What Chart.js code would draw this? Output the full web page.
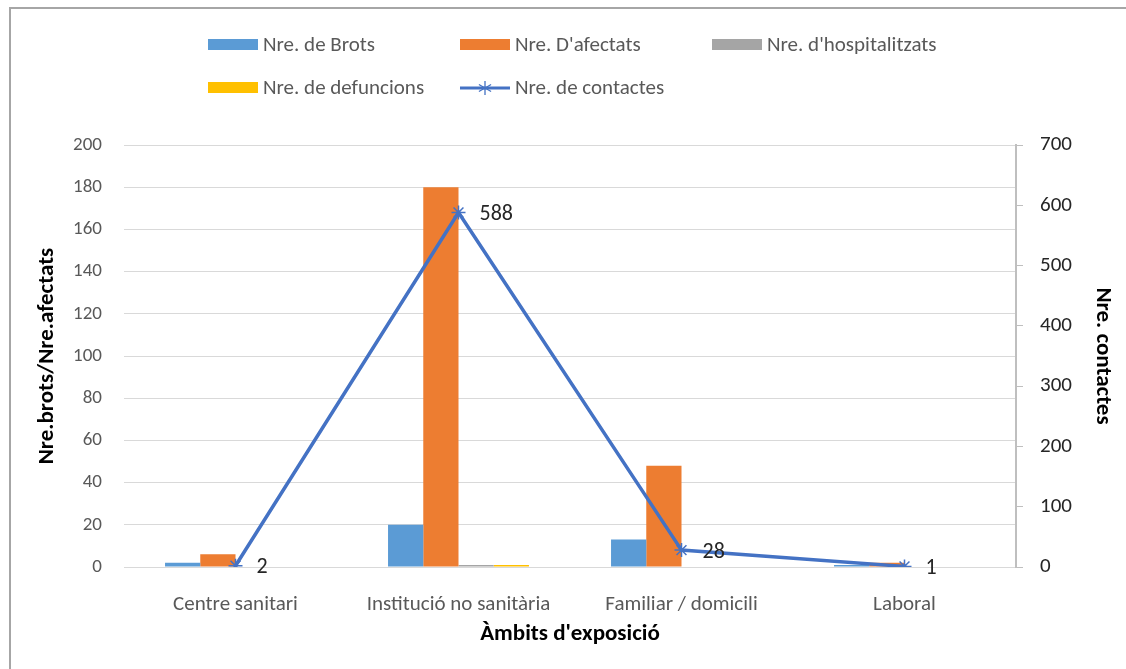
<!DOCTYPE html>
<html>
<head>
<meta charset="utf-8">
<script src="https://cdn.jsdelivr.net/npm/chart.js@4"></script>
<style>
  body { margin: 0; background: #fff; }
  #wrap { position: relative; width: 1126px; height: 669px; overflow: hidden; }
  #marc { position: absolute; left: 9px; top: 7px; width: 1200px; height: 700px;
          border-top: 2px solid #a6a6a6; border-left: 2px solid #a6a6a6; }
  canvas { position: absolute; left: 0; top: 0; }
</style>
</head>
<body>
<div id="wrap">
  <div id="marc"></div>
  <canvas id="grafic" width="1126" height="669"></canvas>
</div>
<script>
// Dades llegides del gràfic
const ambits = ['Centre sanitari', 'Institució no sanitària', 'Familiar / domicili', 'Laboral'];
const brots = [2, 20, 13, 1];
const afectats = [6, 180, 48, 2];
const hospitalitzats = [0, 1, 0, 0];
const defuncions = [0, 1, 0, 0];
const contactes = [2, 588, 28, 1];

const FONT = "Carlito, Lato, 'Open Sans', sans-serif";
const GRIS_TEXT = '#595959';

// Llegenda a l'estil Excel (columnes de mida fixa)
const llegendaExcel = {
  id: 'llegendaExcel',
  afterDraw(chart) {
    const ctx = chart.ctx;
    const items = chart.data.datasets;
    const x0 = 208, colW = 252, files = [45, 88];
    ctx.save();
    ctx.font = '21px ' + FONT;
    ctx.textBaseline = 'middle';
    items.forEach((ds, i) => {
      const x = x0 + (i % 3) * colW;
      const y = files[Math.floor(i / 3)];
      if (ds.type === 'line') {
        ctx.strokeStyle = ds.borderColor;
        ctx.lineWidth = 3;
        ctx.beginPath(); ctx.moveTo(x, y); ctx.lineTo(x + 50, y); ctx.stroke();
        ctx.lineWidth = 1.3;
        ctx.strokeStyle = ds.pointBorderColor;
        const r = 7, cx = x + 25;
        ctx.beginPath();
        ctx.moveTo(cx, y - r); ctx.lineTo(cx, y + r);
        ctx.moveTo(cx - r * 0.87, y - r / 2); ctx.lineTo(cx + r * 0.87, y + r / 2);
        ctx.moveTo(cx - r * 0.87, y + r / 2); ctx.lineTo(cx + r * 0.87, y - r / 2);
        ctx.stroke();
      } else {
        ctx.fillStyle = ds.backgroundColor;
        ctx.fillRect(x, y - 6, 50, 11);
      }
      ctx.fillStyle = GRIS_TEXT;
      ctx.fillText(ds.label, x + 55, y + 1);
    });
    ctx.restore();
  }
};

// Etiquetes de valor de la línia de contactes
const etiquetes = {
  id: 'etiquetes',
  afterDatasetsDraw(chart) {
    const idx = chart.data.datasets.findIndex(d => d.type === 'line');
    const meta = chart.getDatasetMeta(idx);
    const ctx = chart.ctx;
    ctx.save();
    ctx.font = '22px ' + FONT;
    ctx.fillStyle = '#262626';
    ctx.textAlign = 'left';
    ctx.textBaseline = 'middle';
    meta.data.forEach((pt, i) => {
      ctx.fillText(String(chart.data.datasets[idx].data[i]), pt.x + 21, pt.y + 2);
    });
    ctx.restore();
  }
};

const barres = (label, data, color) => ({
  type: 'bar', label, data, backgroundColor: color, yAxisID: 'y',
  order: 1, categoryPercentage: 0.632, barPercentage: 1
});

new Chart(document.getElementById('grafic').getContext('2d'), {
  data: {
    labels: ambits,
    datasets: [
      barres('Nre. de Brots', brots, '#5B9BD5'),
      barres("Nre. D'afectats", afectats, '#ED7D31'),
      barres("Nre. d'hospitalitzats", hospitalitzats, '#A5A5A5'),
      barres('Nre. de defuncions', defuncions, '#FFC000'),
      {
        type: 'line', label: 'Nre. de contactes', data: contactes, yAxisID: 'y1', order: 0,
        borderColor: '#4472C4', borderWidth: 3.5, pointStyle: 'star', pointRadius: 7,
        pointBorderColor: '#4472C4', pointBorderWidth: 1.5, pointBackgroundColor: '#4472C4',
        tension: 0
      }
    ]
  },
  options: {
    responsive: false,
    animation: false,
    devicePixelRatio: 1,
    layout: { padding: { top: 145, left: 0, right: 0, bottom: 0 } },
    plugins: { legend: { display: false }, tooltip: { enabled: false } },
    scales: {
      x: {
        grid: { display: false },
        border: { display: false },
        ticks: { color: GRIS_TEXT, font: { family: FONT, size: 21 }, padding: 17, maxRotation: 0 },
        title: { display: true, text: "Àmbits d'exposició", color: '#000',
                 font: { family: FONT, size: 23, weight: 'bold' }, padding: { top: 0, bottom: 21 } },
        afterFit(s) { s.height = 102; }
      },
      y: {
        position: 'left', min: 0, max: 200,
        ticks: { stepSize: 20, color: GRIS_TEXT, font: { family: FONT, size: 19 }, padding: 22 },
        grid: { color: '#d9d9d9', drawTicks: false },
        border: { display: false },
        title: { display: true, text: 'Nre.brots/Nre.afectats', color: '#000',
                 font: { family: FONT, size: 23, weight: 'bold' }, padding: { top: 33, bottom: 0 } },
        afterFit(s) { s.width = 124; }
      },
      y1: {
        position: 'right', min: 0, max: 700,
        ticks: { stepSize: 100, color: '#262626', font: { family: FONT, size: 21 }, padding: 17 },
        grid: { drawOnChartArea: false, color: '#bfbfbf', tickLength: 7 },
        border: { display: true, color: '#bfbfbf', width: 2 },
        title: { display: true, text: 'Nre. contactes', color: '#000',
                 font: { family: FONT, size: 23, weight: 'bold' }, padding: { top: 9, bottom: 0 } },
        afterFit(s) { s.width = 110; }
      }
    }
  },
  plugins: [llegendaExcel, etiquetes]
});
</script>
</body>
</html>
